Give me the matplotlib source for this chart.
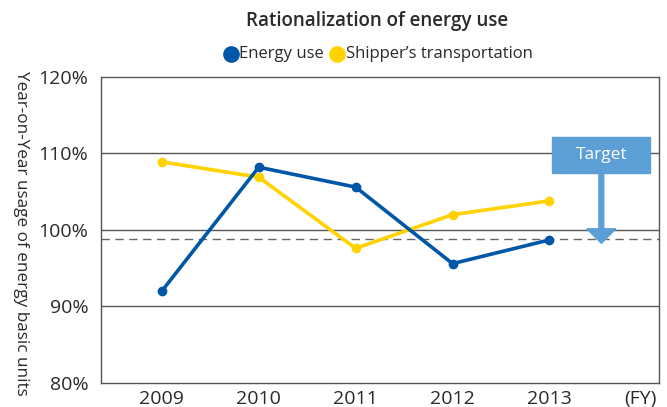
import matplotlib.pyplot as plt
from matplotlib.lines import Line2D
from matplotlib.patches import FancyArrow, Rectangle

plt.rcParams['font.family'] = ['Open Sans', 'DejaVu Sans']

# data
years = [2009, 2010, 2011, 2012, 2013]
energy_use = [92.0, 108.2, 105.6, 95.6, 98.7]
shipper = [108.9, 106.9, 97.6, 102.0, 103.8]
target = 98.8
yticks = [80, 90, 100, 110, 120]
ytick_labels = ['80%', '90%', '100%', '110%', '120%']

blue = '#0057a8'
yellow = '#ffd200'
grid_col = '#555555'
txt = '#2a2a2a'

fig = plt.figure(figsize=(6.67, 4.07), dpi=100)
ax = fig.add_axes([0.151, 0.059, 0.837, 0.752])

for y in [90, 100, 110]:
    ax.axhline(y, color=grid_col, lw=1.0, zorder=1)
ax.axhline(target, color='#666666', lw=1.0, ls=(0, (6, 4)), zorder=1)

ax.plot(years, shipper, color=yellow, lw=2.6, marker='o', ms=6, zorder=3)
ax.plot(years, energy_use, color=blue, lw=2.6, marker='o', ms=6, zorder=4)

ax.set_xlim(2008.37, 2014.13)
ax.set_ylim(80, 120)
ax.set_yticks(yticks)
ax.set_yticklabels(ytick_labels, fontsize=14, color=txt)
ax.set_xticks(years + [2013.94])
ax.set_xticklabels([str(y) for y in years] + ['(FY)'], fontsize=14, color=txt)
ax.tick_params(length=0)
ax.tick_params(axis='y', pad=9)
ax.tick_params(axis='x', pad=5)
for s in ax.spines.values():
    s.set_color(grid_col)
    s.set_linewidth(1.0)

ax.set_ylabel('Year-on-Year usage of energy basic units', fontsize=12.3,
              rotation=270, va='center', ha='center', color=txt)
ax.yaxis.set_label_coords(-0.143, 0.49)

# target box and arrow
tcol = '#5b9fd6'
ax.add_patch(Rectangle((2013.03, 107.45), 1.01, 4.75, color=tcol, zorder=5, clip_on=False))
ax.text(2013.535, 109.8, 'Target', color='white', fontsize=12.5, ha='center', va='center', zorder=6)
ax.add_patch(FancyArrow(2013.535, 107.45, 0, -9.2, width=0.05, head_width=0.3,
                        head_length=1.9, length_includes_head=True, color=tcol, zorder=5))

fig.text(0.566, 0.948, 'Rationalization of energy use', ha='center', va='center',
         fontsize=13.5, fontweight='semibold', color=txt)

# legend
ly = 0.868
fig.add_artist(Line2D([230.5 / 667], [ly], marker='o', ms=11, color=blue, ls='none'))
fig.add_artist(Line2D([337 / 667], [ly], marker='o', ms=11, color=yellow, ls='none'))
fig.text(239 / 667, ly, 'Energy use', fontsize=12, ha='left', va='center', color=txt)
fig.text(346 / 667, ly, 'Shipper\u2019s transportation', fontsize=12, ha='left', va='center', color=txt)

fig.savefig('out.png', dpi=100)
